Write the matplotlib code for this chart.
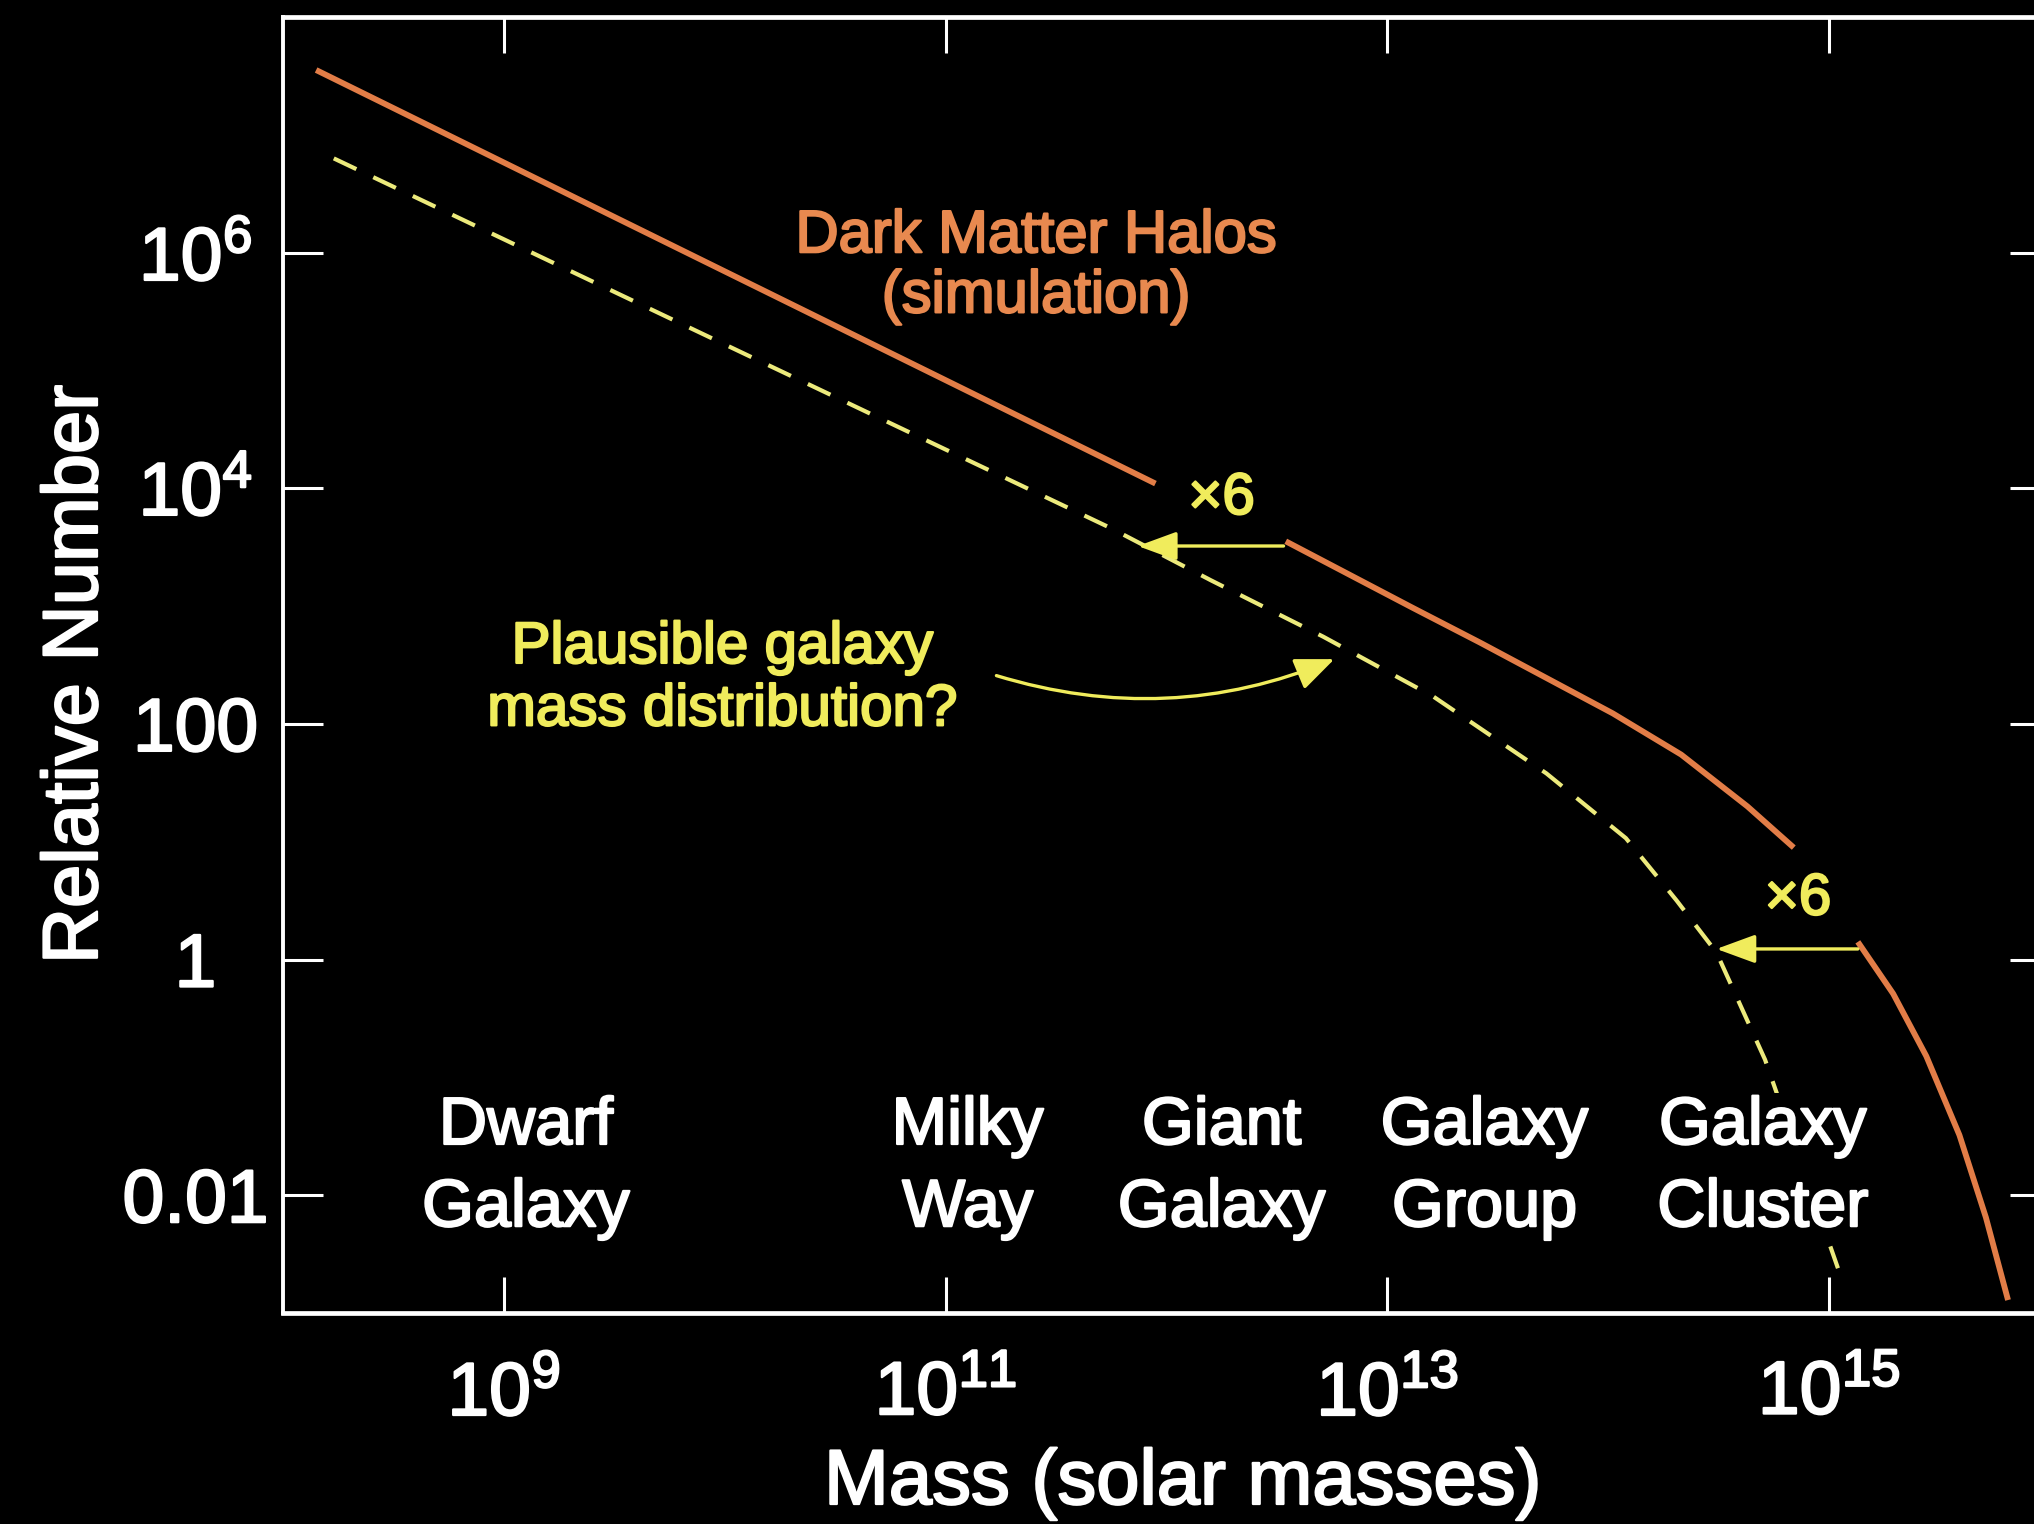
import numpy as np
import matplotlib.pyplot as plt
import matplotlib.patheffects as pe

plt.rcParams['font.family'] = ['Liberation Sans', 'DejaVu Sans']
plt.rcParams['mathtext.fontset'] = 'custom'
plt.rcParams['mathtext.rm'] = 'Liberation Sans'

# log10 mass (solar masses) / log10 relative number along each curve
halo_logm = [[8.15, 11.95],
             [12.54, 13.11, 13.42, 13.72, 14.02, 14.33, 14.63, 14.84],
             [15.13, 15.29, 15.44, 15.59, 15.71, 15.81]]
halo_logn = [[7.55, 4.04],
             [3.55, 2.99, 2.69, 2.39, 2.09, 1.74, 1.30, 0.95],
             [0.15, -0.29, -0.82, -1.49, -2.19, -2.89]]

gal_logm = [8.23, 11.75, 12.20, 12.71, 13.21, 13.72, 14.08, 14.31, 14.49, 14.71, 15.04]
gal_logn = [6.80, 3.66, 3.22, 2.74, 2.23, 1.58, 1.03, 0.50, 0.06, -0.85, -2.62]

class_names = ['Dwarf\nGalaxy', 'Milky\nWay', 'Giant\nGalaxy', 'Galaxy\nGroup', 'Galaxy\nCluster']
class_logm = [9.10, 11.10, 12.25, 13.44, 14.70]
class_logn = -1.77

xticks = [1e9, 1e11, 1e13, 1e15]
xticklabels = [r'$\mathregular{10^{9}}$', r'$\mathregular{10^{11}}$',
               r'$\mathregular{10^{13}}$', r'$\mathregular{10^{15}}$']
yticks = [1e-2, 1, 1e2, 1e4, 1e6]
yticklabels = ['0.01', '1', '100', r'$\mathregular{10^{4}}$', r'$\mathregular{10^{6}}$']

# x6 shift arrows: tail logM, head logM, logN
shift_arrows = [(12.53, 11.87, 3.51), (15.13, 14.49, 0.09)]
shift_text = [(12.25, 3.91), (14.86, 0.51)]

orange = '#E27D47'
orange_txt = '#E8894F'
yellow = '#F0EC5C'
yellow_dash = '#ECEA7C'


def heavy(color, w=1.6):
    return [pe.withStroke(linewidth=w, foreground=color)]


fig = plt.figure(figsize=(20.34, 15.24), dpi=100, facecolor='black')
ax = fig.add_axes([0.13913, 0.13845, 0.86873, 0.85039])
ax.set_facecolor('black')
ax.set_xscale('log')
ax.set_yscale('log')
ax.set_xlim(1e8, 1e16)
ax.set_ylim(1e-3, 1e8)

for lm, ln in zip(halo_logm, halo_logn):
    ax.plot(10**np.array(lm), 10**np.array(ln), color=orange, lw=4.2,
            solid_capstyle='butt', solid_joinstyle='round', zorder=3)

ax.plot(10**np.array(gal_logm), 10**np.array(gal_logn), color=yellow_dash,
        lw=3.0, dashes=(6, 4.5), zorder=2)

for tail, head, ln in shift_arrows:
    ax.annotate('', xy=(10**head, 10**ln), xytext=(10**tail, 10**ln),
                arrowprops=dict(arrowstyle='-|>,head_length=0.6,head_width=0.22',
                                color=yellow, lw=2.4, mutation_scale=40,
                                shrinkA=0, shrinkB=0), zorder=4)
for lm, ln in shift_text:
    ax.text(10**lm, 10**ln, '×6', color=yellow, fontsize=42,
            ha='center', va='center', zorder=4, path_effects=heavy(yellow))

# curved pointer from the label to the dashed curve
ax.annotate('', xy=(10**12.76, 10**2.55), xytext=(10**11.23, 10**2.41),
            arrowprops=dict(arrowstyle='-|>,head_length=0.6,head_width=0.25',
                            color=yellow, lw=2.4, mutation_scale=40,
                            shrinkA=0, shrinkB=0,
                            connectionstyle='arc3,rad=0.18'), zorder=4)

ax.text(10**11.41, 10**5.88, 'Dark Matter Halos\n(simulation)', color=orange_txt,
        fontsize=43, ha='center', va='center', linespacing=1.12,
        path_effects=heavy(orange_txt))
ax.text(10**9.99, 10**2.38, 'Plausible galaxy\nmass distribution?', color=yellow,
        fontsize=42, ha='center', va='center', linespacing=1.2,
        path_effects=heavy(yellow))

for name, lm in zip(class_names, class_logm):
    ax.text(10**lm, 10**class_logn, name, color='white', fontsize=48,
            ha='center', va='center', linespacing=1.42, zorder=5,
            path_effects=heavy('white'),
            bbox=dict(facecolor='black', edgecolor='none', pad=2))

ax.set_xticks(xticks)
ax.set_xticklabels(xticklabels)
ax.set_yticks(yticks)
ax.set_yticklabels(yticklabels)
ax.minorticks_off()
ax.tick_params(axis='both', which='major', direction='in', colors='white',
               top=True, right=True, width=2.2)
ax.tick_params(axis='x', length=26, pad=34, labelsize=54)
ax.tick_params(axis='y', length=29, pad=63, labelsize=54)
for t in ax.get_yticklabels():
    t.set_horizontalalignment('center')
for t in ax.get_xticklabels() + ax.get_yticklabels():
    t.set_path_effects(heavy('white'))

for side, sp in ax.spines.items():
    sp.set_color('white')
    sp.set_linewidth(3.4 if side in ('top', 'bottom') else 2.8)

ax.set_xlabel('Mass (solar masses)', color='white', fontsize=56,
              path_effects=heavy('white'))
ax.xaxis.set_label_coords(0.509, -0.1034)
ax.set_ylabel('Relative Number', color='white', fontsize=56,
              path_effects=heavy('white'))
ax.yaxis.set_label_coords(-0.0962, 0.4927)

fig.savefig('out.png', dpi=100, facecolor='black')
